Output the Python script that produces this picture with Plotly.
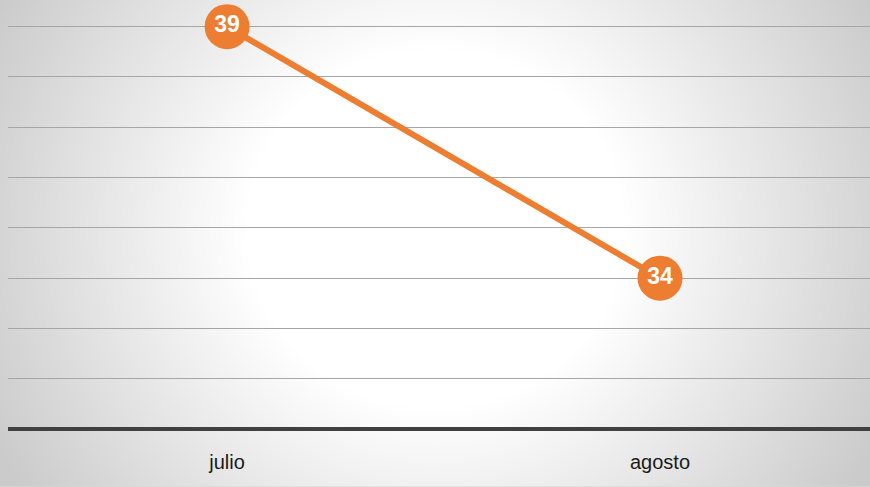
import base64, struct, zlib
import numpy as np
import plotly.graph_objects as go

# ---- data ----
categories = ["julio", "agosto"]
values = [39, 34]

W, H = 870, 487
ML, MR, MT, MB = 8, 0, 0, 59.5
plot_w = W - ML - MR
plot_h = H - MT - MB

# ---- radial gradient background as PNG ----
def gradient_png(w, h):
    yy, xx = np.mgrid[0:h, 0:w]
    cx, cy = w * 0.5, h * 0.47
    r = np.sqrt(((xx - cx) / 1.0) ** 2 + ((yy - cy) / 0.95) ** 2)
    r0, r1 = 190.0, np.sqrt(cx ** 2 + (cy / 0.95) ** 2)
    t = np.clip((r - r0) / (r1 - r0), 0, 1)
    v = (255 - 52 * t ** 1.0).astype(np.uint8)
    raw = b"".join(b"\x00" + v[i].tobytes() for i in range(h))
    def chunk(tag, data):
        c = tag + data
        return struct.pack(">I", len(data)) + c + struct.pack(">I", zlib.crc32(c) & 0xffffffff)
    png = b"\x89PNG\r\n\x1a\n"
    png += chunk(b"IHDR", struct.pack(">IIBBBBB", w, h, 8, 0, 0, 0, 0))
    png += chunk(b"IDAT", zlib.compress(raw, 9))
    png += chunk(b"IEND", b"")
    return "data:image/png;base64," + base64.b64encode(png).decode()

bg = gradient_png(W, H)

orange = "#ED7D31"
fig = go.Figure()
fig.add_trace(go.Scatter(
    x=categories, y=values,
    mode="lines+markers+text",
    line=dict(color=orange, width=6),
    marker=dict(size=45, color=orange, line=dict(width=0)),
    text=[str(v) for v in values],
    textposition="middle center",
    textfont=dict(color="white", size=23, family="Liberation Sans, Arial", weight="bold"),
    cliponaxis=False,
    hoverinfo="skip",
))

fig.update_layout(
    width=W, height=H,
    margin=dict(l=ML, r=MR, t=MT, b=MB),
    paper_bgcolor="#d8d8d8",
    plot_bgcolor="rgba(0,0,0,0)",
    showlegend=False,
    images=[dict(
        source=bg, xref="paper", yref="paper",
        x=-ML / plot_w, y=1 + MT / plot_h,
        sizex=W / plot_w, sizey=H / plot_h,
        xanchor="left", yanchor="top", sizing="stretch", layer="below",
    )],
    xaxis=dict(
        type="category", range=[-0.506, 1.485],
        showgrid=False, zeroline=False,
        showline=True, linecolor="#404040", linewidth=4,
        ticks="", ticklabelstandoff=14,
        tickfont=dict(size=20, color="#1a1a1a", family="Liberation Sans, Arial"),
        fixedrange=True,
    ),
    yaxis=dict(
        range=[31.04, 39.53], dtick=1, tick0=31,
        showgrid=True, gridcolor="#a6a6a6", gridwidth=1,
        showticklabels=False, zeroline=False, showline=False,
        fixedrange=True,
    ),
)

fig.write_html(
    "out.html",
    config={"displayModeBar": False},
    post_script="document.body.style.margin='0';document.body.style.overflow='hidden';",
)
